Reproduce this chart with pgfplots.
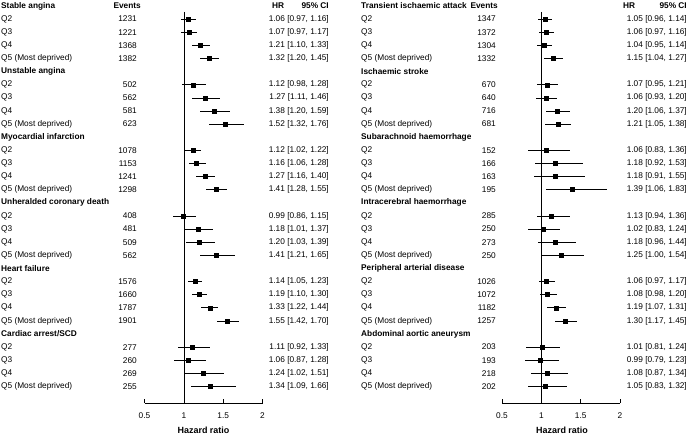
\documentclass[border=0pt]{standalone}
\usepackage{pgfplots}
\pgfplotsset{compat=1.18}
\usepackage{pgfplotstable}
\usepackage{fontspec}
\setmainfont{Liberation Sans}

\newcommand\fs{\fontsize{8.3}{10}\selectfont}

% forest rows: y = -row (row 0 = first header)
\pgfplotstableread{
y hr lo hi
-1 1.06 0.97 1.16
-2 1.07 0.97 1.17
-3 1.21 1.10 1.33
-4 1.32 1.20 1.45
-6 1.12 0.98 1.28
-7 1.27 1.11 1.46
-8 1.38 1.20 1.59
-9 1.52 1.32 1.76
-11 1.12 1.02 1.22
-12 1.16 1.06 1.28
-13 1.27 1.16 1.40
-14 1.41 1.28 1.55
-16 0.99 0.86 1.15
-17 1.18 1.01 1.37
-18 1.20 1.03 1.39
-19 1.41 1.21 1.65
-21 1.14 1.05 1.23
-22 1.19 1.10 1.30
-23 1.33 1.22 1.44
-24 1.55 1.42 1.70
-26 1.11 0.92 1.33
-27 1.06 0.87 1.28
-28 1.24 1.02 1.51
-29 1.34 1.09 1.66
}\lefttab

\pgfplotstableread{
y hr lo hi
-1 1.05 0.96 1.14
-2 1.06 0.97 1.16
-3 1.04 0.95 1.14
-4 1.15 1.04 1.27
-6 1.07 0.95 1.21
-7 1.06 0.93 1.20
-8 1.20 1.06 1.37
-9 1.21 1.05 1.38
-11 1.06 0.83 1.36
-12 1.18 0.92 1.53
-13 1.18 0.91 1.55
-14 1.39 1.06 1.83
-16 1.13 0.94 1.36
-17 1.02 0.83 1.24
-18 1.18 0.96 1.44
-19 1.25 1.00 1.54
-21 1.06 0.97 1.17
-22 1.08 0.98 1.20
-23 1.19 1.07 1.31
-24 1.30 1.17 1.45
-26 1.01 0.81 1.24
-27 0.99 0.79 1.23
-28 1.08 0.87 1.34
-29 1.05 0.83 1.32
}\righttab

\pgfplotsset{forest/.style={
  scale only axis, width=118pt, height=391pt, anchor=south west,
  xmin=0.5, xmax=2, ymin=-30.26, ymax=-0.457,
  axis x line=bottom, axis y line=none,
  axis line style={-, line width=0.6pt, black},
  xtick={0.5,1,1.5,2}, xticklabels={0.5,1,1.5,2},
  tick align=inside, major tick length=4pt,
  tick style={line width=0.6pt, black},
  /pgf/number format/assume math mode=true,
  ticklabel style={font=\fs, yshift=-6pt},
  clip=false,
}}

\newcommand\ry[1]{{429-13.12*(#1)}}

\begin{document}
\begin{tikzpicture}[x=1pt,y=1pt]
\useasboundingbox (0,0) rectangle (688,435);

\begin{axis}[forest, at={(144.5pt,32pt)}]
\addplot[black, line width=0.6pt] coordinates {(1,-0.457) (1,-30.26)};
\addplot[black, only marks, mark=square*, mark size=2pt,
  error bars/.cd, x dir=both, x explicit, error mark=none,
  error bar style={line width=0.6pt, black}]
  table[x=hr, y=y, x error plus expr=\thisrow{hi}-\thisrow{hr},
        x error minus expr=\thisrow{hr}-\thisrow{lo}] {\lefttab};
\end{axis}

\begin{axis}[forest, at={(502pt,32pt)}]
\addplot[black, line width=0.6pt] coordinates {(1,-0.457) (1,-30.26)};
\addplot[black, only marks, mark=square*, mark size=2pt,
  error bars/.cd, x dir=both, x explicit, error mark=none,
  error bar style={line width=0.6pt, black}]
  table[x=hr, y=y, x error plus expr=\thisrow{hi}-\thisrow{hr},
        x error minus expr=\thisrow{hr}-\thisrow{lo}] {\righttab};
\end{axis}

% x-axis titles
\node[font=\fs\bfseries, scale=1.08] at (203.5,5) {Hazard ratio};
\node[font=\fs\bfseries, scale=1.08] at (562,5) {Hazard ratio};

% column headers
\node[font=\fs\bfseries, anchor=east, inner sep=0pt] at (141,\ry{0}) {Events};
\node[font=\fs\bfseries, anchor=west, inner sep=0pt] at (272,\ry{0}) {HR};
\node[font=\fs\bfseries, anchor=east, inner sep=0pt] at (329,\ry{0}) {95\% CI};
\node[font=\fs\bfseries, anchor=east, inner sep=0pt] at (498,\ry{0}) {Events};
\node[font=\fs\bfseries, anchor=west, inner sep=0pt] at (623,\ry{0}) {HR};
\node[font=\fs\bfseries, anchor=east, inner sep=0pt] at (687,\ry{0}) {95\% CI};

% group headers
\foreach \r/\t in {0/{Stable angina}, 5/{Unstable angina}, 10/{Myocardial infarction},
  15/{Unheralded coronary death}, 20/{Heart failure}, 25/{Cardiac arrest/SCD}}
  \node[font=\fs\bfseries, anchor=west, inner sep=0pt] at (1,\ry{\r}) {\t};
\foreach \r/\t in {0/{Transient ischaemic attack}, 5/{Ischaemic stroke},
  10/{Subarachnoid haemorrhage}, 15/{Intracerebral haemorrhage},
  20/{Peripheral arterial disease}, 25/{Abdominal aortic aneurysm}}
  \node[font=\fs\bfseries, anchor=west, inner sep=0pt] at (361,\ry{\r}) {\t};

% quintile labels
\foreach \g in {0,5,10,15,20,25} {
  \foreach \k/\q in {1/Q2, 2/Q3, 3/Q4, 4/{Q5 (Most deprived)}} {
    \node[font=\fs, anchor=west, inner sep=0pt] at (1,\ry{\g+\k}) {\q};
    \node[font=\fs, anchor=west, inner sep=0pt] at (361,\ry{\g+\k}) {\q};
  }
}

% left panel rows
\foreach \r/\e/\c in {
  1/1231/{1.06 [0.97, 1.16]}, 2/1221/{1.07 [0.97, 1.17]}, 3/1368/{1.21 [1.10, 1.33]}, 4/1382/{1.32 [1.20, 1.45]},
  6/502/{1.12 [0.98, 1.28]}, 7/562/{1.27 [1.11, 1.46]}, 8/581/{1.38 [1.20, 1.59]}, 9/623/{1.52 [1.32, 1.76]},
  11/1078/{1.12 [1.02, 1.22]}, 12/1153/{1.16 [1.06, 1.28]}, 13/1241/{1.27 [1.16, 1.40]}, 14/1298/{1.41 [1.28, 1.55]},
  16/408/{0.99 [0.86, 1.15]}, 17/481/{1.18 [1.01, 1.37]}, 18/509/{1.20 [1.03, 1.39]}, 19/562/{1.41 [1.21, 1.65]},
  21/1576/{1.14 [1.05, 1.23]}, 22/1660/{1.19 [1.10, 1.30]}, 23/1787/{1.33 [1.22, 1.44]}, 24/1901/{1.55 [1.42, 1.70]},
  26/277/{1.11 [0.92, 1.33]}, 27/260/{1.06 [0.87, 1.28]}, 28/269/{1.24 [1.02, 1.51]}, 29/255/{1.34 [1.09, 1.66]}} {
  \node[font=\fs, anchor=east, inner sep=0pt] at (137,\ry{\r}) {\e};
  \node[font=\fs, anchor=east, inner sep=0pt] at (329,\ry{\r}) {\c};
}

% right panel rows
\foreach \r/\e/\c in {
  1/1347/{1.05 [0.96, 1.14]}, 2/1372/{1.06 [0.97, 1.16]}, 3/1304/{1.04 [0.95, 1.14]}, 4/1332/{1.15 [1.04, 1.27]},
  6/670/{1.07 [0.95, 1.21]}, 7/640/{1.06 [0.93, 1.20]}, 8/716/{1.20 [1.06, 1.37]}, 9/681/{1.21 [1.05, 1.38]},
  11/152/{1.06 [0.83, 1.36]}, 12/166/{1.18 [0.92, 1.53]}, 13/163/{1.18 [0.91, 1.55]}, 14/195/{1.39 [1.06, 1.83]},
  16/285/{1.13 [0.94, 1.36]}, 17/250/{1.02 [0.83, 1.24]}, 18/273/{1.18 [0.96, 1.44]}, 19/250/{1.25 [1.00, 1.54]},
  21/1026/{1.06 [0.97, 1.17]}, 22/1072/{1.08 [0.98, 1.20]}, 23/1182/{1.19 [1.07, 1.31]}, 24/1257/{1.30 [1.17, 1.45]},
  26/203/{1.01 [0.81, 1.24]}, 27/193/{0.99 [0.79, 1.23]}, 28/218/{1.08 [0.87, 1.34]}, 29/202/{1.05 [0.83, 1.32]}} {
  \node[font=\fs, anchor=east, inner sep=0pt] at (496,\ry{\r}) {\e};
  \node[font=\fs, anchor=east, inner sep=0pt] at (687,\ry{\r}) {\c};
}
\end{tikzpicture}
\end{document}
